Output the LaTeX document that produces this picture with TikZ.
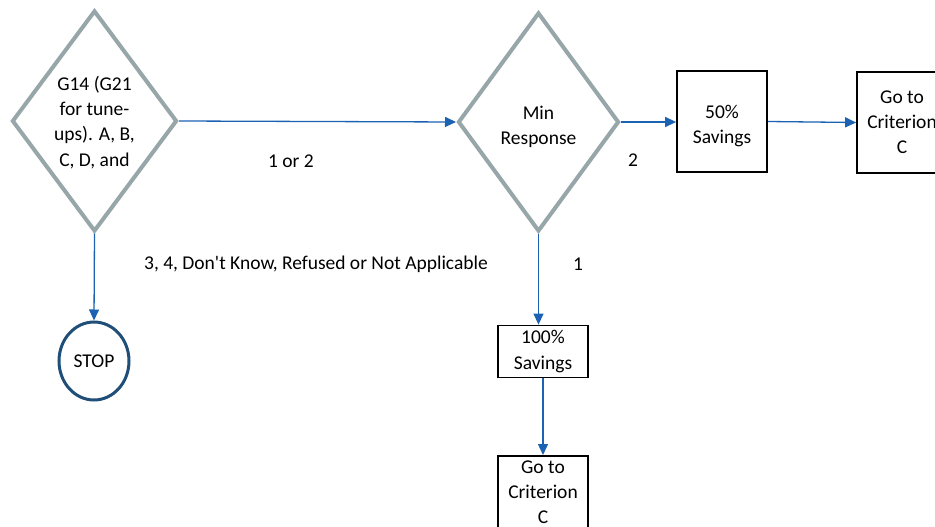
\documentclass[tikz,border=0pt]{standalone}
\usepackage{fontspec}
\setmainfont{Carlito}
\usetikzlibrary{shapes.geometric,arrows.meta}
\definecolor{decgray}{RGB}{151,166,168}
\definecolor{flowblue}{RGB}{28,98,178}
\definecolor{stopblue}{RGB}{31,78,121}
% taller first line, to sit text a little lower in its box
\newcommand{\firstline}{\rule{0pt}{22pt}}
\tikzset{
  txt/.style={font=\fontsize{19.5}{25.2}\selectfont},
  decision/.style={diamond, draw=decgray, line width=4pt, inner sep=0pt},
  dectext/.style={align=center, inner sep=0pt, txt},
  outcome/.style={rectangle, draw=black, line width=1.8pt, align=center, minimum width=90pt,
    inner xsep=2pt, inner ysep=4.5pt, txt},
  stopnode/.style={ellipse, draw=stopblue, line width=3pt, minimum width=70pt, minimum height=78pt,
    inner sep=0pt, txt},
  flow/.style={draw=flowblue, line width=1.3pt, -{Triangle[length=11pt,width=10pt]}},
  lbl/.style={txt}
}
\begin{document}
\begin{tikzpicture}[x=1pt,y=-1pt]
\useasboundingbox (0,0) rectangle (935,527);
% decisions
\node[decision, minimum width=165pt, minimum height=221pt] (q1) at (94.5,121) {};
\node[dectext] (q1t) at ([yshift=-1.5pt]q1.center) {G14 (G21\\for tune-\\ups). A, B,\\C, D, and};
\node[decision, minimum width=161pt, minimum height=219pt] (q2) at (538.5,122) {};
\node[dectext] (q2t) at ([yshift=-4.5pt]q2.center) {Min\\Response};
% outcomes
\node[outcome, minimum height=101pt] (half) at (722,121.5) {\firstline 50\%\\Savings};
\node[outcome, minimum height=101pt] (goA) at (902,122.5) {Go to\\Criterion\\C};
\node[outcome, minimum height=52pt] (full) at (543,351.5) {100\%\\Savings};
\node[outcome, anchor=north] (goB) at (543,455) {Go to\\Criterion\\C};
\node[stopnode] (stop) at (94,361) {STOP};
% connectors
\draw[flow] (q1.east) -- (q2.west);
\draw[flow] (q2.east) -- (half.west |- q2.east);
\draw[flow] (half.east) -- (goA.west);
\draw[flow] (q1.south) -- (stop.north);
\draw[flow] (q2.south) -- (full.north -| q2.south);
\draw[flow] (full.south) -- (goB.north);
% branch labels
\node[lbl] (l12) at (291,161) {1 or 2};
\node[lbl] (l2) at (633,160) {2};
\node[lbl] (l34) at (316,264) {3, 4, Don\textquotesingle t Know, Refused or Not Applicable};
\node[lbl] (l1) at (578,264) {1};
\end{tikzpicture}
\end{document}
